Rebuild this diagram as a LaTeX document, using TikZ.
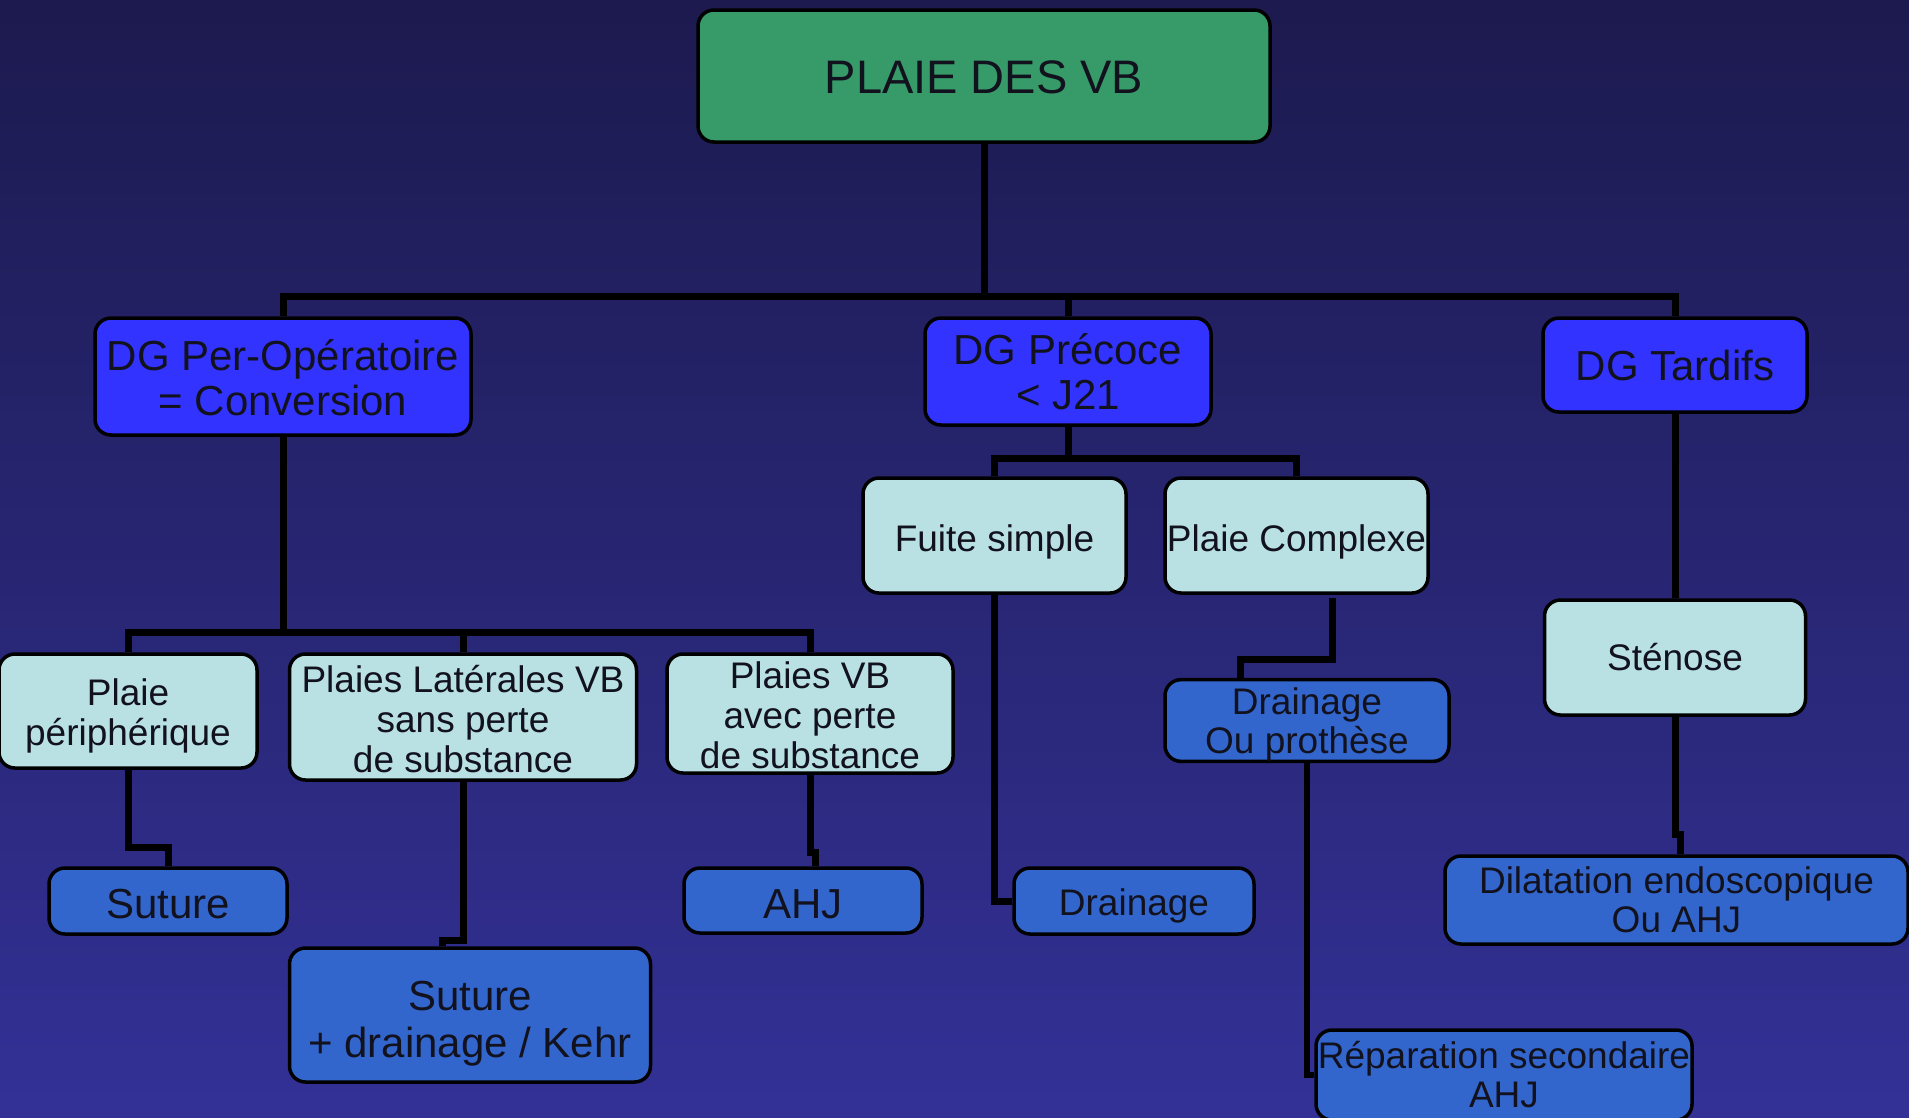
\documentclass[tikz,border=0pt]{standalone}
\usepackage{fontspec}
\setmainfont{Liberation Sans}
\definecolor{bgtop}{RGB}{28,26,78}
\definecolor{bgbot}{RGB}{51,49,150}
\definecolor{greenbox}{RGB}{54,155,105}
\definecolor{brightblue}{RGB}{51,51,255}
\definecolor{midblue}{RGB}{51,102,204}
\definecolor{lightcyan}{RGB}{185,225,227}
\definecolor{txt}{RGB}{18,18,30}
% strut on first line pushes the text block down by #1 pt
\newcommand{\dnshift}[1]{\rule{0pt}{\dimexpr0.73em+#1pt+#1pt\relax}}
\tikzset{
  boxbase/.style={draw=black, line width=3.5pt, rounded corners=16pt, inner sep=0pt, align=center, text=txt},
  rootbox/.style={boxbase, fill=greenbox, font=\fontsize{47}{50}\selectfont},
  dgbox/.style={boxbase, fill=brightblue, font=\fontsize{42}{45}\selectfont},
  lightbox/.style={boxbase, fill=lightcyan, font=\fontsize{37}{40}\selectfont},
  treatbox/.style={boxbase, fill=midblue, font=\fontsize{37}{39}\selectfont},
  treatbig/.style={boxbase, fill=midblue, font=\fontsize{42}{47}\selectfont},
  conn/.style={draw=black, line width=7pt}
}
\begin{document}
\begin{tikzpicture}[x=1pt,y=-1pt]
\useasboundingbox (0,0) rectangle (1909,1117);
\fill[top color=bgtop, bottom color=bgbot] (0,0) rectangle (1909,1117);

% coordinates for bars and jogs
\coordinate (bar1) at (0,296);
\coordinate (bar2) at (0,632);
\coordinate (bar3) at (0,458);
\coordinate (j1) at (442,940);
\coordinate (j2) at (815,852);
\coordinate (pcx) at (1332,598);
\coordinate (j3) at (1240,659);
\coordinate (j4) at (1680,834);

% nodes
\node[rootbox, minimum width=572, minimum height=132] (root) at (984,76) {\dnshift{1}PLAIE DES VB};
\node[dgbox, minimum width=376, minimum height=117] (dgper) at (283,376.5) {\dnshift{1}DG Per-Opératoire\\= Conversion};
\node[dgbox, minimum width=286, minimum height=107] (dgpre) at (1068,371.5) {DG Précoce\\< J21};
\node[dgbox, minimum width=264, minimum height=94] (dgtar) at (1675,365) {DG Tardifs};

\node[lightbox, minimum width=258, minimum height=114] (pp) at (128,711) {\dnshift{5}Plaie\\périphérique};
\node[lightbox, minimum width=347, minimum height=126] (pl) at (463,717) {\dnshift{2}Plaies Latérales VB\hspace{6pt}\\sans perte\hspace{6pt}\\de substance\hspace{6pt}};
\node[lightbox, minimum width=286, minimum height=119] (pvb) at (810,713.5) {\dnshift{2}Plaies VB\\avec perte\\de substance};
\node[lightbox, minimum width=263, minimum height=115] (fs) at (994.5,535.5) {\dnshift{6}Fuite simple};
\node[lightbox, minimum width=263, minimum height=115] (pc) at (1296.5,535.5) {\dnshift{6}Plaie Complexe};
\node[lightbox, minimum width=261, minimum height=115] (sten) at (1675,657.5) {Sténose};

\node[treatbig, minimum width=238, minimum height=66] (sut) at (168,901) {\dnshift{2.5}Suture};
\node[treatbig, minimum width=238, minimum height=65] (ahj) at (803,900.5) {\dnshift{2.5}AHJ};
\node[treatbig, minimum width=361, minimum height=134] (sutd) at (470,1015) {\dnshift{8}Suture\hspace{6pt}\\+ drainage / Kehr\hspace{4pt}};
\node[treatbox, minimum width=240, minimum height=66] (drn) at (1134,901) {\dnshift{5}Drainage};
\node[treatbox, minimum width=284, minimum height=79] (dop) at (1307,720.5) {\dnshift{4}Drainage\\Ou prothèse};
\node[treatbox, minimum width=463, minimum height=88] (dil) at (1676.5,900) {Dilatation endoscopique\\Ou AHJ};
\node[treatbox, minimum width=376, minimum height=90] (rep) at (1504,1075) {Réparation secondaire\\AHJ};

% connectors
\draw[conn] (root.south) -- (root.south |- bar1) -| (dgper.north);
\draw[conn] (root.south |- bar1) -| (dgpre.north);
\draw[conn] (root.south |- bar1) -| (dgtar.north);

\draw[conn] (dgper.south) -- (dgper.south |- bar2) -| (pp.north);
\draw[conn] (dgper.south |- bar2) -| (pl.north);
\draw[conn] (dgper.south |- bar2) -| (pvb.north);

\draw[conn] (dgpre.south) -- (dgpre.south |- bar3) -| (fs.north);
\draw[conn] (dgpre.south |- bar3) -| (pc.north);

\draw[conn] (dgtar.south) -- (sten.north);

\draw[conn] (pp.south) -- ++(0,78) -| (sut.north);
\draw[conn] (pl.south) |- (j1) -- (j1 |- sutd.north);
\draw[conn] (pvb.south) |- (j2) -- (j2 |- ahj.north);
\draw[conn] (fs.south) |- (drn.west);
\draw[conn] (pcx) |- (j3) -- (j3 |- dop.north);
\draw[conn, line width=6pt] (dop.south) |- (rep.west);
\draw[conn] (sten.south) |- (j4) -- (j4 |- dil.north);
\end{tikzpicture}
\end{document}
